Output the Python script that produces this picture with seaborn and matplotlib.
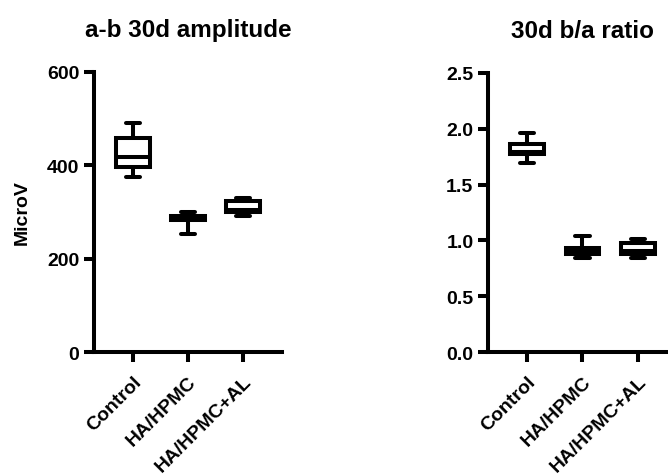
import matplotlib
matplotlib.use("Agg")
import matplotlib.pyplot as plt
import seaborn as sns
import pandas as pd

# Groups
groups = ["Control", "HA/HPMC", "HA/HPMC+AL"]

# Five-number summaries: min, Q1, median, Q3, max
amp_control = [374, 396, 418, 459, 490]
amp_ha_hpmc = [252, 282, 287, 292, 299]
amp_ha_hpmc_al = [292, 300, 305, 323, 331]

ratio_control = [1.69, 1.77, 1.79, 1.86, 1.96]
ratio_ha_hpmc = [0.84, 0.88, 0.90, 0.93, 1.035]
ratio_ha_hpmc_al = [0.845, 0.88, 0.905, 0.975, 1.01]

amp_ticks = [0, 200, 400, 600]
ratio_ticks = [0.0, 0.5, 1.0, 1.5, 2.0, 2.5]

titles = ["a-b 30d amplitude", "30d b/a ratio"]
ylabel = "MicroV"


def to_long(values_by_group):
    rows = []
    for g, vals in zip(groups, values_by_group):
        for v in vals:
            rows.append({"group": g, "value": v})
    return pd.DataFrame(rows)


df_amp = to_long([amp_control, amp_ha_hpmc, amp_ha_hpmc_al])
df_ratio = to_long([ratio_control, ratio_ha_hpmc, ratio_ha_hpmc_al])

sns.set_style("ticks")
plt.rcParams["font.family"] = ["Liberation Sans", "DejaVu Sans"]
plt.rcParams["font.weight"] = "bold"
for k in ["text.color", "axes.labelcolor", "xtick.color", "ytick.color",
          "axes.edgecolor"]:
    plt.rcParams[k] = "black"

W, H = 668, 477
fig = plt.figure(figsize=(W / 100, H / 100), dpi=100)

def px_axes(x0, x1, y0, y1):
    return fig.add_axes([x0 / W, 1 - y1 / H, (x1 - x0) / W, (y1 - y0) / H])

ax1 = px_axes(94, 282, 73, 353)
ax2 = px_axes(488, 677, 74, 353)

LW = 2.9
for ax, df, ticks, title, fmt in [
    (ax1, df_amp, amp_ticks, titles[0], "{:.0f}"),
    (ax2, df_ratio, ratio_ticks, titles[1], "{:.1f}"),
]:
    sns.boxplot(
        data=df, x="group", y="value", ax=ax, order=groups,
        color="white", linecolor="black", linewidth=LW,
        width=0.61, whis=(0, 100), showfliers=False, capwidths=0.26,
    )
    ax.set_xlim(-0.7, 2.7)
    ax.set_ylim(ticks[0], ticks[-1])
    ax.set_yticks(ticks)
    ax.set_yticklabels([fmt.format(t) for t in ticks])
    ax.set_xlabel("")
    ax.set_ylabel("")
    ax.set_title(title, fontsize=17.5, fontweight="bold", pad=26, color="black")
    for s in ["top", "right"]:
        ax.spines[s].set_visible(False)
    for s in ["left", "bottom"]:
        ax.spines[s].set_linewidth(LW)
        ax.spines[s].set_color("black")
    ax.tick_params(axis="y", length=7, width=LW, color="black",
                   labelsize=14, pad=3.5, labelcolor="black")
    ax.tick_params(axis="x", length=7, width=LW, color="black",
                   labelsize=14, pad=8, labelcolor="black")
    for lab in ax.get_yticklabels():
        lab.set_fontweight("bold")
    for lab in ax.get_xticklabels():
        lab.set_rotation(45)
        lab.set_ha("right")
        lab.set_va("top")
        lab.set_rotation_mode("anchor")
        lab.set_fontweight("bold")
        lab.set_fontsize(14)

ax1.set_ylabel(ylabel, fontsize=14, fontweight="bold", labelpad=12, color="black")

fig.savefig("out.png", dpi=100, facecolor="white")
